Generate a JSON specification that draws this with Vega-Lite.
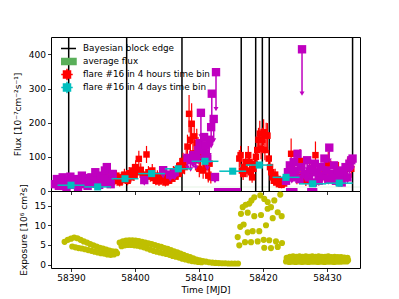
{
  "$schema": "https://vega.github.io/schema/vega-lite/v6.json",
  "padding": {"left": 12, "top": 35, "right": 5, "bottom": 5},
  "spacing": 0,
  "bounds": "flush",
  "config": {
    "font": "DejaVu Sans",
    "view": {"stroke": "black", "strokeWidth": 1},
    "legend": {"symbolSize": 100},
    "axis": {"domain": false, "grid": false, "tickColor": "black", "tickSize": 3.5, "tickWidth": 0.8, "labelFontSize": 9, "labelColor": "black", "titleFontSize": 9, "titleFontWeight": "normal", "titleColor": "black", "labelPadding": 2, "labelOverlap": false}
  },
  "datasets": {
    "edges": [{"t": 58389.64, "series": "Bayesian block edge"}, {"t": 58398.7, "series": "Bayesian block edge"}, {"t": 58407.34, "series": "Bayesian block edge"}, {"t": 58416.6, "series": "Bayesian block edge"}, {"t": 58418.86, "series": "Bayesian block edge"}, {"t": 58419.9, "series": "Bayesian block edge"}, {"t": 58420.98, "series": "Bayesian block edge"}, {"t": 58434.0, "series": "Bayesian block edge"}],
    "band": [{"t": 58386.875, "t2": 58435.16, "lo": 10, "hi": 13, "series": "average flux"}],
    "red": [
      {"t": 58388.7, "f": 25, "e": 12}, {"t": 58389.4, "f": 18, "e": 12}, {"t": 58390.6, "f": 30, "e": 14}, {"t": 58391.8, "f": 26, "e": 13}, {"t": 58392.9, "f": 35, "e": 15}, {"t": 58393.5, "f": 22, "e": 12}, {"t": 58394.3, "f": 38, "e": 15}, {"t": 58394.9, "f": 30, "e": 14}, {"t": 58395.4, "f": 45, "e": 16}, {"t": 58395.8, "f": 33, "e": 14},
      {"t": 58396.1, "f": 35, "e": 14}, {"t": 58396.35, "f": 28, "e": 13}, {"t": 58396.6, "f": 42, "e": 15}, {"t": 58396.85, "f": 30, "e": 13}, {"t": 58397.1, "f": 45, "e": 16}, {"t": 58397.35, "f": 38, "e": 15}, {"t": 58397.6, "f": 25, "e": 12}, {"t": 58397.85, "f": 40, "e": 15}, {"t": 58398.1, "f": 33, "e": 14}, {"t": 58398.35, "f": 48, "e": 17}, {"t": 58398.6, "f": 36, "e": 15}, {"t": 58398.85, "f": 30, "e": 13}, {"t": 58399.1, "f": 52, "e": 18}, {"t": 58399.35, "f": 40, "e": 15}, {"t": 58399.6, "f": 60, "e": 19}, {"t": 58399.85, "f": 45, "e": 16}, {"t": 58400.1, "f": 70, "e": 20}, {"t": 58400.35, "f": 55, "e": 18}, {"t": 58400.6, "f": 94, "e": 24}, {"t": 58400.9, "f": 62, "e": 19}, {"t": 58401.2, "f": 48, "e": 17}, {"t": 58401.5, "f": 40, "e": 15}, {"t": 58401.8, "f": 107, "e": 25}, {"t": 58402.1, "f": 55, "e": 18}, {"t": 58402.4, "f": 42, "e": 15}, {"t": 58402.7, "f": 60, "e": 19}, {"t": 58403.0, "f": 38, "e": 15}, {"t": 58403.25, "f": 30, "e": 13}, {"t": 58403.5, "f": 45, "e": 16}, {"t": 58403.75, "f": 28, "e": 13}, {"t": 58404.0, "f": 35, "e": 14}, {"t": 58404.25, "f": 50, "e": 17}, {"t": 58404.5, "f": 32, "e": 14}, {"t": 58404.75, "f": 25, "e": 12}, {"t": 58405.0, "f": 40, "e": 15}, {"t": 58405.25, "f": 30, "e": 13}, {"t": 58405.5, "f": 48, "e": 17}, {"t": 58405.75, "f": 36, "e": 15}, {"t": 58406.0, "f": 55, "e": 18}, {"t": 58406.25, "f": 42, "e": 16}, {"t": 58406.5, "f": 62, "e": 20}, {"t": 58406.75, "f": 50, "e": 17}, {"t": 58407.0, "f": 75, "e": 22}, {"t": 58407.25, "f": 60, "e": 19}, {"t": 58407.5, "f": 88, "e": 24}, {"t": 58407.75, "f": 70, "e": 21}, {"t": 58408.0, "f": 95, "e": 26},
      {"t": 58408.2, "f": 130, "e": 35}, {"t": 58408.45, "f": 226, "e": 55}, {"t": 58408.65, "f": 150, "e": 40}, {"t": 58408.85, "f": 197, "e": 60}, {"t": 58409.05, "f": 110, "e": 35}, {"t": 58409.25, "f": 160, "e": 45}, {"t": 58409.45, "f": 90, "e": 30}, {"t": 58409.65, "f": 140, "e": 42}, {"t": 58409.85, "f": 120, "e": 38}, {"t": 58410.05, "f": 65, "e": 25}, {"t": 58410.25, "f": 100, "e": 32}, {"t": 58410.45, "f": 130, "e": 40}, {"t": 58410.65, "f": 60, "e": 24}, {"t": 58410.85, "f": 110, "e": 35}, {"t": 58411.05, "f": 70, "e": 26}, {"t": 58411.25, "f": 95, "e": 30}, {"t": 58411.45, "f": 45, "e": 20}, {"t": 58411.65, "f": 80, "e": 28}, {"t": 58411.85, "f": 40, "e": 18},
      {"t": 58416.3, "f": 95, "e": 25}, {"t": 58416.5, "f": 105, "e": 27}, {"t": 58416.7, "f": 60, "e": 20}, {"t": 58416.9, "f": 50, "e": 18}, {"t": 58417.1, "f": 70, "e": 22}, {"t": 58417.3, "f": 85, "e": 24}, {"t": 58417.5, "f": 60, "e": 20}, {"t": 58417.7, "f": 105, "e": 27}, {"t": 58417.9, "f": 85, "e": 24}, {"t": 58418.1, "f": 55, "e": 19}, {"t": 58418.3, "f": 40, "e": 16}, {"t": 58418.5, "f": 65, "e": 20}, {"t": 58418.7, "f": 80, "e": 23}, {"t": 58418.9, "f": 100, "e": 26}, {"t": 58419.1, "f": 120, "e": 30}, {"t": 58419.3, "f": 150, "e": 35}, {"t": 58419.5, "f": 168, "e": 38}, {"t": 58419.7, "f": 124, "e": 31}, {"t": 58419.9, "f": 150, "e": 35}, {"t": 58420.1, "f": 172, "e": 38}, {"t": 58420.3, "f": 120, "e": 30}, {"t": 58420.5, "f": 163, "e": 37}, {"t": 58420.7, "f": 162, "e": 37}, {"t": 58420.9, "f": 95, "e": 26}, {"t": 58421.1, "f": 70, "e": 22}, {"t": 58421.3, "f": 55, "e": 19}, {"t": 58421.5, "f": 40, "e": 16}, {"t": 58421.7, "f": 30, "e": 14}, {"t": 58421.9, "f": 48, "e": 17}, {"t": 58422.1, "f": 25, "e": 12}, {"t": 58422.3, "f": 35, "e": 14}, {"t": 58422.5, "f": 20, "e": 11}, {"t": 58422.7, "f": 30, "e": 13}, {"t": 58422.9, "f": 18, "e": 10}, {"t": 58423.1, "f": 28, "e": 12}, {"t": 58423.3, "f": 22, "e": 11},
      {"t": 58424.4, "f": 109, "e": 45}, {"t": 58424.9, "f": 60, "e": 25}, {"t": 58425.3, "f": 40, "e": 20}, {"t": 58425.8, "f": 88, "e": 35}, {"t": 58426.2, "f": 47, "e": 22}, {"t": 58426.7, "f": 30, "e": 15}, {"t": 58427.3, "f": 55, "e": 25}, {"t": 58428.2, "f": 105, "e": 40}, {"t": 58428.8, "f": 35, "e": 18}, {"t": 58429.6, "f": 50, "e": 22}, {"t": 58430.2, "f": 80, "e": 35}, {"t": 58431.0, "f": 40, "e": 20}, {"t": 58431.8, "f": 60, "e": 25}, {"t": 58432.5, "f": 45, "e": 20}, {"t": 58433.2, "f": 70, "e": 28}, {"t": 58433.8, "f": 65, "e": 26}
    ],
    "ul": [
      {"t": 58387.5, "u": 20, "lo": 14}, {"t": 58387.8, "u": 35, "lo": 25}, {"t": 58388.1, "u": 15, "lo": 10}, {"t": 58388.4, "u": 28, "lo": 20}, {"t": 58388.7, "u": 40, "lo": 28}, {"t": 58389.0, "u": 22, "lo": 15}, {"t": 58389.3, "u": 12, "lo": 8}, {"t": 58389.6, "u": 30, "lo": 21}, {"t": 58389.9, "u": 42, "lo": 29}, {"t": 58390.2, "u": 18, "lo": 13}, {"t": 58390.5, "u": 35, "lo": 25}, {"t": 58390.8, "u": 25, "lo": 18}, {"t": 58391.1, "u": 10, "lo": 7}, {"t": 58391.4, "u": 30, "lo": 21}, {"t": 58391.7, "u": 45, "lo": 32}, {"t": 58392.0, "u": 20, "lo": 14}, {"t": 58392.3, "u": 38, "lo": 27}, {"t": 58392.6, "u": 15, "lo": 10}, {"t": 58392.9, "u": 28, "lo": 20}, {"t": 58393.2, "u": 40, "lo": 28}, {"t": 58393.5, "u": 22, "lo": 15}, {"t": 58393.8, "u": 55, "lo": 38}, {"t": 58394.1, "u": 30, "lo": 21}, {"t": 58394.4, "u": 18, "lo": 13}, {"t": 58394.7, "u": 45, "lo": 32}, {"t": 58395.0, "u": 25, "lo": 18}, {"t": 58395.3, "u": 60, "lo": 42}, {"t": 58395.6, "u": 70, "lo": 49}, {"t": 58395.9, "u": 35, "lo": 25}, {"t": 58396.2, "u": 20, "lo": 14}, {"t": 58396.5, "u": 50, "lo": 35},
      {"t": 58401.45, "u": 32, "lo": 22}, {"t": 58404.4, "u": 61, "lo": 43}, {"t": 58405.5, "u": 48, "lo": 34}, {"t": 58406.2, "u": 55, "lo": 38}, {"t": 58408.2, "u": 97, "lo": 68}, {"t": 58408.7, "u": 90, "lo": 63}, {"t": 58409.1, "u": 105, "lo": 74}, {"t": 58409.5, "u": 97, "lo": 68}, {"t": 58409.9, "u": 120, "lo": 84}, {"t": 58410.1, "u": 140, "lo": 98}, {"t": 58410.3, "u": 229, "lo": 160}, {"t": 58410.5, "u": 130, "lo": 91}, {"t": 58410.8, "u": 158, "lo": 110}, {"t": 58411.0, "u": 110, "lo": 77}, {"t": 58411.1, "u": 133, "lo": 93}, {"t": 58411.3, "u": 95, "lo": 66}, {"t": 58411.6, "u": 150, "lo": 105}, {"t": 58411.9, "u": 187, "lo": 131}, {"t": 58412.0, "u": 285, "lo": 200}, {"t": 58412.3, "u": 211, "lo": 148}, {"t": 58412.5, "u": 41, "lo": 29}, {"t": 58412.66, "u": 348, "lo": 240},
      {"t": 58423.6, "u": 30, "lo": 21}, {"t": 58423.9, "u": 55, "lo": 38}, {"t": 58424.2, "u": 75, "lo": 52}, {"t": 58424.5, "u": 40, "lo": 28}, {"t": 58424.8, "u": 85, "lo": 60}, {"t": 58425.1, "u": 60, "lo": 42}, {"t": 58425.4, "u": 109, "lo": 76}, {"t": 58425.7, "u": 35, "lo": 25}, {"t": 58426.0, "u": 70, "lo": 49}, {"t": 58426.1, "u": 415, "lo": 285}, {"t": 58426.6, "u": 50, "lo": 35}, {"t": 58426.9, "u": 90, "lo": 63}, {"t": 58427.2, "u": 40, "lo": 28}, {"t": 58427.5, "u": 65, "lo": 46}, {"t": 58427.8, "u": 25, "lo": 18}, {"t": 58428.1, "u": 80, "lo": 56}, {"t": 58428.4, "u": 55, "lo": 38}, {"t": 58428.7, "u": 30, "lo": 21}, {"t": 58429.0, "u": 70, "lo": 49}, {"t": 58429.3, "u": 45, "lo": 32}, {"t": 58429.6, "u": 95, "lo": 66}, {"t": 58429.9, "u": 60, "lo": 42}, {"t": 58430.2, "u": 35, "lo": 25}, {"t": 58430.36, "u": 127, "lo": 89}, {"t": 58430.8, "u": 50, "lo": 35}, {"t": 58431.1, "u": 75, "lo": 52}, {"t": 58431.4, "u": 30, "lo": 21}, {"t": 58431.7, "u": 60, "lo": 42}, {"t": 58432.0, "u": 45, "lo": 32}, {"t": 58432.3, "u": 25, "lo": 18}, {"t": 58432.6, "u": 55, "lo": 38}, {"t": 58432.9, "u": 70, "lo": 49}, {"t": 58433.2, "u": 40, "lo": 28}, {"t": 58433.5, "u": 80, "lo": 56}, {"t": 58433.8, "u": 90, "lo": 63}, {"t": 58434.0, "u": 95, "lo": 66}
    ],
    "ulbars": [{"t": 58412.34, "t2": 58416.56, "u": 3}, {"t": 58423.6, "t2": 58425.4, "u": 3}, {"t": 58426.9, "t2": 58428.5, "u": 3}],
    "cyan": [
      {"t": 58390.0, "f": 17, "e": 4, "dt": 2.1, "series": "flare #16 in 4 days time bin"}, {"t": 58394.17, "f": 12, "e": 4, "dt": 2.1, "series": "flare #16 in 4 days time bin"}, {"t": 58398.44, "f": 36, "e": 5, "dt": 2.1, "series": "flare #16 in 4 days time bin"}, {"t": 58402.6, "f": 51, "e": 5, "dt": 2.1, "series": "flare #16 in 4 days time bin"}, {"t": 58406.77, "f": 65, "e": 6, "dt": 2.1, "series": "flare #16 in 4 days time bin"}, {"t": 58410.94, "f": 87, "e": 8, "dt": 2.1, "series": "flare #16 in 4 days time bin"}, {"t": 58415.27, "f": 58, "e": 6, "dt": 2.1, "series": "flare #16 in 4 days time bin"}, {"t": 58419.42, "f": 76, "e": 7, "dt": 2.1, "series": "flare #16 in 4 days time bin"}, {"t": 58423.6, "f": 40, "e": 5, "dt": 2.1, "series": "flare #16 in 4 days time bin"}, {"t": 58427.77, "f": 21, "e": 4, "dt": 2.1, "series": "flare #16 in 4 days time bin"}, {"t": 58431.92, "f": 23, "e": 4, "dt": 2.1, "series": "flare #16 in 4 days time bin"}
    ],
    "expo": [
      {"t": 58389.0, "v": 5.8}, {"t": 58389.5, "v": 6.3}, {"t": 58390.0, "v": 6.6}, {"t": 58390.5, "v": 6.9}, {"t": 58391.0, "v": 6.7}, {"t": 58391.5, "v": 6.3}, {"t": 58392.0, "v": 5.9}, {"t": 58392.5, "v": 5.6}, {"t": 58393.0, "v": 5.2}, {"t": 58393.5, "v": 4.9}, {"t": 58394.0, "v": 4.6}, {"t": 58394.5, "v": 4.3}, {"t": 58395.0, "v": 4.1}, {"t": 58395.5, "v": 3.8}, {"t": 58396.0, "v": 3.6}, {"t": 58396.5, "v": 3.4}, {"t": 58397.0, "v": 3.3},
      {"t": 58390.2, "v": 4.6}, {"t": 58390.7, "v": 4.4}, {"t": 58391.2, "v": 4.2}, {"t": 58391.7, "v": 4.1}, {"t": 58392.2, "v": 3.9}, {"t": 58392.7, "v": 3.7}, {"t": 58393.2, "v": 3.5}, {"t": 58393.7, "v": 3.3}, {"t": 58394.2, "v": 3.1}, {"t": 58394.7, "v": 2.9}, {"t": 58395.2, "v": 2.8}, {"t": 58395.7, "v": 2.6}, {"t": 58396.2, "v": 2.5}, {"t": 58396.7, "v": 2.6}, {"t": 58397.2, "v": 2.9},
      {"t": 58397.6, "v": 5.6}, {"t": 58398.1, "v": 5.9}, {"t": 58398.6, "v": 6.1}, {"t": 58399.1, "v": 6.2}, {"t": 58399.6, "v": 6.2}, {"t": 58400.1, "v": 6.1}, {"t": 58400.6, "v": 6.0}, {"t": 58401.1, "v": 5.8}, {"t": 58401.6, "v": 5.6}, {"t": 58402.1, "v": 5.4}, {"t": 58402.6, "v": 5.2}, {"t": 58403.1, "v": 5.0}, {"t": 58403.6, "v": 4.7}, {"t": 58404.1, "v": 4.5}, {"t": 58404.6, "v": 4.2}, {"t": 58405.1, "v": 4.0}, {"t": 58405.6, "v": 3.7}, {"t": 58406.1, "v": 3.4}, {"t": 58406.6, "v": 3.1}, {"t": 58407.1, "v": 2.8}, {"t": 58407.6, "v": 2.5}, {"t": 58408.1, "v": 2.2}, {"t": 58408.6, "v": 1.9}, {"t": 58409.1, "v": 1.6}, {"t": 58409.6, "v": 1.3}, {"t": 58410.1, "v": 1.1}, {"t": 58410.6, "v": 0.9}, {"t": 58411.1, "v": 0.75}, {"t": 58411.6, "v": 0.6}, {"t": 58412.1, "v": 0.5}, {"t": 58412.6, "v": 0.45}, {"t": 58413.1, "v": 0.4}, {"t": 58413.6, "v": 0.35}, {"t": 58414.1, "v": 0.35}, {"t": 58414.6, "v": 0.3}, {"t": 58415.1, "v": 0.3}, {"t": 58415.6, "v": 0.3}, {"t": 58416.1, "v": 0.3},
      {"t": 58397.9, "v": 4.7}, {"t": 58398.4, "v": 4.9}, {"t": 58398.9, "v": 5.0}, {"t": 58399.4, "v": 5.0}, {"t": 58399.9, "v": 4.9}, {"t": 58400.4, "v": 4.8}, {"t": 58400.9, "v": 4.6}, {"t": 58401.4, "v": 4.4}, {"t": 58401.9, "v": 4.1}, {"t": 58402.4, "v": 3.8}, {"t": 58402.9, "v": 3.5}, {"t": 58403.4, "v": 3.3}, {"t": 58403.9, "v": 3.1}, {"t": 58404.4, "v": 2.9}, {"t": 58404.9, "v": 2.7}, {"t": 58405.4, "v": 2.5}, {"t": 58405.9, "v": 2.2}, {"t": 58406.4, "v": 2.0}, {"t": 58406.9, "v": 1.8}, {"t": 58407.4, "v": 1.5}, {"t": 58407.9, "v": 1.3}, {"t": 58408.4, "v": 1.1}, {"t": 58408.9, "v": 0.9}, {"t": 58409.4, "v": 0.8}, {"t": 58409.9, "v": 0.7}, {"t": 58410.4, "v": 0.6},
      {"t": 58418.64, "v": 17.1}, {"t": 58419.58, "v": 17.6}, {"t": 58420.2, "v": 16.7}, {"t": 58420.73, "v": 15.9}, {"t": 58421.77, "v": 16.3}, {"t": 58422.7, "v": 17.8}, {"t": 58417.86, "v": 15.5}, {"t": 58416.83, "v": 14.6}, {"t": 58417.3, "v": 15.2}, {"t": 58418.2, "v": 16.3}, {"t": 58416.56, "v": 12.9}, {"t": 58417.61, "v": 13.2}, {"t": 58418.64, "v": 12.3}, {"t": 58419.69, "v": 12.6}, {"t": 58420.73, "v": 14.2}, {"t": 58421.25, "v": 14.6}, {"t": 58421.52, "v": 11.8}, {"t": 58422.3, "v": 13.3}, {"t": 58422.92, "v": 12.3}, {"t": 58416.45, "v": 9.6}, {"t": 58416.98, "v": 10.2}, {"t": 58417.61, "v": 8.2}, {"t": 58418.39, "v": 8.5}, {"t": 58419.42, "v": 8.5}, {"t": 58420.47, "v": 10.0}, {"t": 58416.05, "v": 7.0}, {"t": 58416.3, "v": 4.9}, {"t": 58417.19, "v": 5.7}, {"t": 58418.13, "v": 5.7}, {"t": 58419.17, "v": 5.9}, {"t": 58420.11, "v": 6.3}, {"t": 58420.98, "v": 6.2}, {"t": 58422.03, "v": 5.9}, {"t": 58422.97, "v": 5.5}, {"t": 58420.2, "v": 4.3}, {"t": 58421.25, "v": 4.2}, {"t": 58422.3, "v": 4.5},
      {"t": 58423.7, "v": 1.7}, {"t": 58424.2, "v": 2.0}, {"t": 58424.7, "v": 2.1}, {"t": 58425.2, "v": 2.0}, {"t": 58425.7, "v": 2.1}, {"t": 58426.2, "v": 2.0}, {"t": 58426.7, "v": 2.1}, {"t": 58427.2, "v": 2.0}, {"t": 58427.7, "v": 2.1}, {"t": 58428.2, "v": 2.0}, {"t": 58428.7, "v": 2.1}, {"t": 58429.2, "v": 2.0}, {"t": 58429.7, "v": 2.0}, {"t": 58430.2, "v": 2.1}, {"t": 58430.7, "v": 1.9}, {"t": 58431.2, "v": 2.0}, {"t": 58431.7, "v": 1.9}, {"t": 58432.2, "v": 1.9}, {"t": 58432.7, "v": 1.8}, {"t": 58433.2, "v": 1.7},
      {"t": 58423.9, "v": 1.2}, {"t": 58424.4, "v": 1.4}, {"t": 58424.9, "v": 1.4}, {"t": 58425.4, "v": 1.3}, {"t": 58425.9, "v": 1.4}, {"t": 58426.4, "v": 1.3}, {"t": 58426.9, "v": 1.4}, {"t": 58427.4, "v": 1.3}, {"t": 58427.9, "v": 1.4}, {"t": 58428.4, "v": 1.3}, {"t": 58428.9, "v": 1.3}, {"t": 58429.4, "v": 1.4}, {"t": 58429.9, "v": 1.3}, {"t": 58430.4, "v": 1.3}, {"t": 58430.9, "v": 1.3}, {"t": 58431.4, "v": 1.2}, {"t": 58431.9, "v": 1.3}, {"t": 58432.4, "v": 1.2}, {"t": 58432.9, "v": 1.2}, {"t": 58433.3, "v": 1.1},
      {"t": 58423.6, "v": 0.8}, {"t": 58424.1, "v": 0.7}, {"t": 58424.6, "v": 0.75}, {"t": 58425.1, "v": 0.7}, {"t": 58425.6, "v": 0.75}, {"t": 58426.1, "v": 0.7}, {"t": 58426.6, "v": 0.75}, {"t": 58427.1, "v": 0.7}, {"t": 58427.6, "v": 0.75}, {"t": 58428.1, "v": 0.75}, {"t": 58428.6, "v": 0.7}, {"t": 58429.1, "v": 0.75}, {"t": 58429.6, "v": 0.7}, {"t": 58430.1, "v": 0.75}, {"t": 58430.6, "v": 0.75}, {"t": 58431.1, "v": 0.7}, {"t": 58431.6, "v": 0.75}, {"t": 58432.1, "v": 0.75}, {"t": 58432.6, "v": 0.8}, {"t": 58433.1, "v": 0.8}
    ]
  },
  "vconcat": [
    {
      "width": 309,
      "height": 154,
      "encoding": {
        "x": {"field": "t", "type": "quantitative", "scale": {"domain": [58386.875, 58435.16], "nice": false, "zero": false}, "axis": {"title": null, "labels": false, "values": [58390, 58400, 58410, 58420, 58430]}}
      },
      "layer": [
        {
          "data": {"name": "band"},
          "mark": {"type": "rect", "opacity": 0.15},
          "encoding": {
            "x2": {"field": "t2"},
            "y": {"field": "lo", "type": "quantitative", "scale": {"domain": [0, 451], "nice": false}, "axis": {"title": "Flux [10⁻⁷cm⁻²s⁻¹]", "values": [0, 100, 200, 300, 400], "titlePadding": 6}},
            "y2": {"field": "hi"},
            "color": {
              "field": "series", "type": "nominal",
              "scale": {"domain": ["Bayesian block edge", "average flux", "flare #16 in 4 hours time bin", "flare #16 in 4 days time bin"], "range": ["black", "#5aaf5a", "red", "#00bfbf"]},
              "legend": {
                "orient": "none", "legendX": 10, "legendY": 5, "title": null,
                "symbolSize": 100, "symbolStrokeWidth": 1.5, "symbolOpacity": 1, "labelFontSize": 8.8, "labelColor": "black", "labelOffset": 10, "rowPadding": 0, "clipHeight": 12.8, "padding": 0
              }
            }
          }
        },
        {
          "data": {"name": "edges"},
          "mark": {"type": "rule", "strokeWidth": 1.5},
          "encoding": {
            "color": {"field": "series", "type": "nominal"}
          }
        },
        {
          "data": {"name": "red"},
          "mark": {"type": "errorbar", "color": "red", "thickness": 1.2},
          "encoding": {
            "y": {"field": "f", "type": "quantitative", "axis": {"title": "Flux [10⁻⁷cm⁻²s⁻¹]", "values": [0, 100, 200, 300, 400], "titlePadding": 6}},
            "yError": {"field": "e"}
          }
        },
        {
          "data": {"name": "red"},
          "mark": {"type": "point", "shape": "square", "filled": true, "size": 42, "opacity": 1, "color": "red"},
          "encoding": {
            "y": {"field": "f", "type": "quantitative", "axis": {"title": "Flux [10⁻⁷cm⁻²s⁻¹]", "values": [0, 100, 200, 300, 400], "titlePadding": 6}}
          }
        },
        {
          "data": {"name": "ulbars"},
          "mark": {"type": "rule", "color": "#bf00bf", "strokeWidth": 4},
          "encoding": {
            "x2": {"field": "t2"},
            "y": {"field": "u", "type": "quantitative", "axis": {"title": "Flux [10⁻⁷cm⁻²s⁻¹]", "values": [0, 100, 200, 300, 400], "titlePadding": 6}}
          }
        },
        {
          "data": {"name": "ul"},
          "mark": {"type": "rule", "color": "#bf00bf", "strokeWidth": 1.5},
          "encoding": {
            "y": {"field": "u", "type": "quantitative", "axis": {"title": "Flux [10⁻⁷cm⁻²s⁻¹]", "values": [0, 100, 200, 300, 400], "titlePadding": 6}},
            "y2": {"field": "lo"}
          }
        },
        {
          "data": {"name": "ul"},
          "mark": {"type": "point", "shape": "triangle-down", "filled": true, "size": 25, "opacity": 1, "color": "#bf00bf"},
          "encoding": {
            "y": {"field": "lo", "type": "quantitative", "axis": {"title": "Flux [10⁻⁷cm⁻²s⁻¹]", "values": [0, 100, 200, 300, 400], "titlePadding": 6}}
          }
        },
        {
          "data": {"name": "ul"},
          "mark": {"type": "point", "shape": "square", "filled": true, "size": 70, "opacity": 1, "color": "#bf00bf"},
          "encoding": {
            "y": {"field": "u", "type": "quantitative", "axis": {"title": "Flux [10⁻⁷cm⁻²s⁻¹]", "values": [0, 100, 200, 300, 400], "titlePadding": 6}}
          }
        },
        {
          "data": {"name": "cyan"},
          "mark": {"type": "errorbar", "color": "#00bfbf", "thickness": 1.5},
          "encoding": {
            "y": {"field": "f", "type": "quantitative", "axis": {"title": "Flux [10⁻⁷cm⁻²s⁻¹]", "values": [0, 100, 200, 300, 400], "titlePadding": 6}},
            "xError": {"field": "dt"}
          }
        },
        {
          "data": {"name": "cyan"},
          "mark": {"type": "point", "shape": "square", "filled": true, "size": 50, "opacity": 1},
          "encoding": {
            "y": {"field": "f", "type": "quantitative", "axis": {"title": "Flux [10⁻⁷cm⁻²s⁻¹]", "values": [0, 100, 200, 300, 400], "titlePadding": 6}},
            "color": {"field": "series", "type": "nominal"}
          }
        },
        {
          "data": {"name": "band"},
          "mark": {"type": "point", "filled": true, "opacity": 0},
          "encoding": {
            "y": {"field": "lo", "type": "quantitative", "axis": {"title": "Flux [10⁻⁷cm⁻²s⁻¹]", "values": [0, 100, 200, 300, 400], "titlePadding": 6}},
            "color": {"field": "series", "type": "nominal"},
            "shape": {
              "field": "series", "type": "nominal",
              "scale": {"domain": ["Bayesian block edge", "average flux", "flare #16 in 4 hours time bin", "flare #16 in 4 days time bin"], "range": ["M-1.8,0H1.8", "M-1.8,-0.6H1.8V0.6H-1.8Z", "M-0.7,-0.7H0.7V0.7H-0.7Z M-1.15,0H1.15 M0,-1.15V1.15", "M-0.7,-0.7H0.7V0.7H-0.7Z M-1.15,0H1.15 M0,-1.15V1.15"]},
              "legend": {
                "orient": "none", "legendX": 10, "legendY": 5, "title": null,
                "symbolSize": 100, "symbolStrokeWidth": 1.5, "symbolOpacity": 1, "labelFontSize": 8.8, "labelColor": "black", "labelOffset": 10, "rowPadding": 0, "clipHeight": 12.8, "padding": 0
              }
            }
          }
        }
      ]
    },
    {
      "width": 309,
      "height": 77,
      "data": {"name": "expo"},
      "mark": {"type": "point", "filled": true, "size": 38, "opacity": 1, "color": "#bfbf00"},
      "encoding": {
        "x": {"field": "t", "type": "quantitative", "scale": {"domain": [58386.875, 58435.16], "nice": false, "zero": false}, "axis": {"title": "Time [MJD]", "values": [58390, 58400, 58410, 58420, 58430], "format": "d", "titlePadding": 3}},
        "y": {"field": "v", "type": "quantitative", "scale": {"domain": [-0.85, 18.7], "nice": false, "zero": false}, "axis": {"title": "Exposure [10⁶ cm²s]", "values": [0, 5, 10, 15], "titlePadding": 6}}
      }
    }
  ]
}
